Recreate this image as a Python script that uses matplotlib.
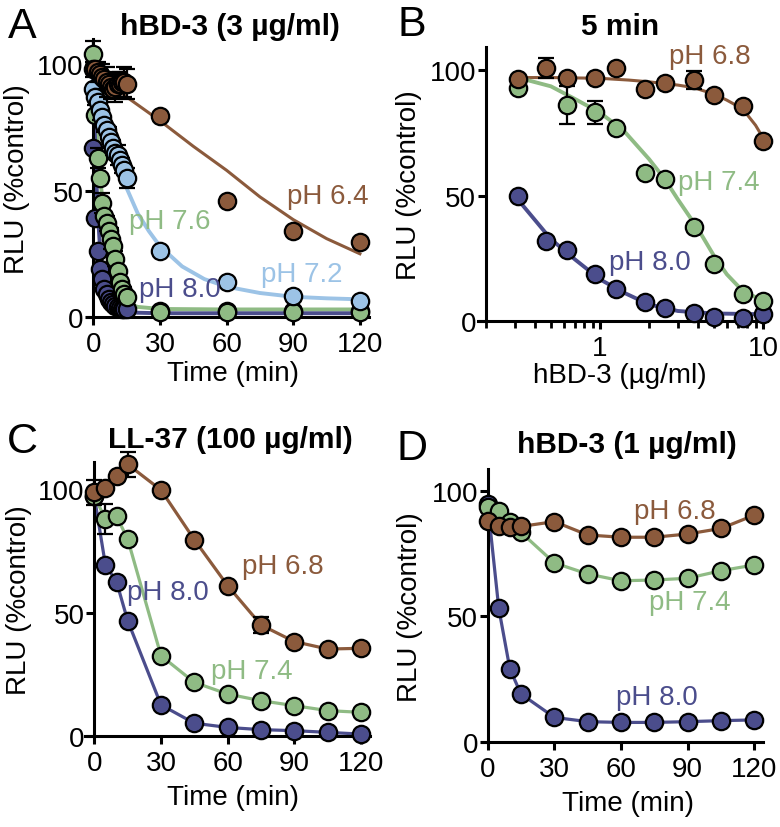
import numpy as np
import matplotlib.pyplot as plt
from matplotlib.ticker import LogLocator, NullFormatter

plt.rcParams['font.family'] = ['Liberation Sans', 'DejaVu Sans']
plt.rcParams['font.size'] = 20

BROWN = '#8b5a3c'
LBLUE = '#9cc3e6'
GREEN = '#8fbb84'
DBLUE = '#4b4d8c'

# ---- panel A: hBD-3 (3 ug/ml), time course ----
a_time = list(range(16)) + [30, 60, 90, 120]
a_ph64 = [98, 98, 97, 96, 95, 94, 93, 92, 91, 90, 91, 92, 92, 93, 93, 92, 79.6, 46, 34, 29.8]
a_ph64_err = [3, 0, 4, 0, 5, 0, 6, 0, 5, 0, 6, 0, 5, 0, 6, 6, 0, 0, 0, 0]
a_ph72 = [90, 87, 85, 82, 79, 76, 74, 71, 69, 67, 65, 64, 62, 60, 58, 55, 26, 13.7, 8.4, 6.4]
a_ph72_err = [0, 3, 0, 4, 0, 3, 0, 4, 0, 3, 0, 4, 0, 3, 0, 4, 0, 0, 0, 0]
a_ph76 = [104, 80, 63, 55, 45, 40, 37, 34, 31, 28, 23, 18, 14, 11, 9, 8, 1.8, 1.8, 1.8, 1.8]
a_ph76_err = [5, 0, 4, 0, 4, 0, 3, 0, 4, 0, 3, 0, 4, 0, 3, 0, 0, 0, 0, 0]
a_ph80 = [67, 39, 26, 19, 15, 11, 9, 7, 6, 5, 4.5, 4, 3.5, 3, 3, 3, 2.5, 2.5, 2.5, 2.5]

# fitted curves
a_fit64_t = [0, 15, 30, 45, 60, 75, 90, 105, 120]
a_fit64 = [98, 87, 77.6, 67.5, 58, 47.5, 38.5, 31, 25]
a_fit72_t = [0, 5, 10, 15, 20, 25, 30, 40, 50, 60, 75, 90, 105, 120]
a_fit72 = [94, 76, 62, 51, 41, 34, 28, 20, 15, 12, 9.5, 8, 7.4, 7]
a_fit76_t = [0, 1, 2, 3, 4, 5, 6, 8, 10, 12, 14, 17, 20, 30, 60, 90, 120]
a_fit76 = [103, 84, 69, 57, 47, 39, 32, 22, 15, 10.5, 7.5, 5, 4, 3.2, 3, 3, 3]
a_fit80_t = [0, 0.5, 1, 1.5, 2, 3, 4, 5, 6, 8, 10, 12, 15, 20, 30, 120]
a_fit80 = [100, 80, 64, 52, 42, 28, 19, 13, 9.5, 5.5, 3.5, 2.5, 2, 1.7, 1.5, 1.5]

# ---- panel B: 5 min, dose response ----
b_conc = [0.3125, 0.469, 0.625, 0.9375, 1.25, 1.875, 2.5, 3.75, 5, 7.5, 10]
b_ph68 = [96.4, 100.7, 96.7, 96.7, 100.7, 92.4, 94.8, 96, 90, 85.5, 71.8]
b_ph68_err = [0, 4, 0, 0, 0, 0, 0, 3.5, 0, 0, 0]
b_conc74 = [0.3125, 0.625, 0.9375, 1.25, 1.875, 2.5, 3.75, 5, 7.5, 10]
b_ph74 = [92.7, 86, 83.1, 77.1, 58.9, 56.5, 37.5, 22.6, 10.9, 8.0]
b_ph74_err = [0, 7.5, 4.5, 0, 0, 0, 0, 0, 0, 0]
b_ph80 = [49.9, 31.9, 28.3, 18.6, 12.6, 7.6, 5.3, 3.3, 1.7, 1.3, 2.7]

b_fit68_c = [0.3125, 0.5, 1, 1.5, 2, 3, 3.75, 5, 6, 7.5, 9, 10]
b_fit68 = [97, 97, 96.7, 96, 95.3, 94, 93, 90.4, 88, 84.5, 78, 73]
b_fit74_c = [0.3125, 0.5, 0.7, 1, 1.4, 2, 2.5, 3, 4, 5, 6, 7.5, 9]
b_fit74 = [97, 93.5, 88.5, 83, 75.8, 64.5, 56.5, 48.5, 36.6, 26, 18.6, 12, 9.5]
b_fit80_c = [0.3125, 0.5, 0.7, 1, 1.4, 2, 3, 5, 10]
b_fit80 = [48.5, 32.6, 24.6, 16.6, 11.3, 6.6, 4, 3, 2.7]

# ---- panel C: LL-37 (100 ug/ml) ----
c_time = [0, 5, 10, 15, 30, 45, 60, 75, 90, 105, 120]
c_ph68 = [98.7, 100.3, 105.4, 110, 99.6, 79.5, 60.9, 45, 38.3, 35.3, 35.6]
c_ph68_err = [5, 0, 0, 5, 0, 0, 0, 3.4, 0, 0, 0]
c_ph74 = [97, 88, 89, 79.8, 32.6, 21.8, 17.1, 14.4, 12.4, 10.4, 9.7]
c_ph74_err = [0, 6, 0, 0, 0, 0, 0, 0, 0, 0, 0]
c_ph80 = [97, 69.3, 62.5, 46.8, 12.7, 5.3, 3.6, 2.7, 2.3, 1.6, 0.9]

# ---- panel D: hBD-3 (1 ug/ml) ----
d_time = [0, 5, 10, 15, 30, 45, 60, 75, 90, 105, 120]
d_ph68 = [88, 86, 85.4, 85.8, 87.7, 82.4, 81.5, 81.5, 82.8, 85, 90.3]
d_ph74 = [93.4, 92, 87.4, 83.4, 71.3, 66.9, 64.2, 64.5, 65.2, 68.2, 70.5]
d_ph80 = [94.7, 53.2, 29.1, 19.2, 9.9, 8.2, 7.9, 7.9, 8.2, 8.6, 8.9]

fig = plt.figure(figsize=(7.8, 8.28), dpi=100)
axA = fig.add_axes([0.111, 0.6159, 0.3618, 0.3361])
axB = fig.add_axes([0.6131, 0.6111, 0.3704, 0.3304])
axC = fig.add_axes([0.1095, 0.1095, 0.3649, 0.3315])
axD = fig.add_axes([0.6181, 0.1023, 0.3605, 0.3297])

MS = 12.5


def dots(ax, x, y, color, z, err=None):
    if err is not None:
        ax.errorbar(x, y, yerr=err, fmt='none', ecolor='black', elinewidth=1.6,
                    capsize=6, capthick=1.6, zorder=z - 0.5, clip_on=False)
    ax.plot(x, y, 'o', ms=MS, mfc=color, mec='black', mew=1.6, zorder=z, clip_on=False)


def style(ax, x0):
    for s in ['top', 'right']:
        ax.spines[s].set_visible(False)
    for s in ['left', 'bottom']:
        ax.spines[s].set_linewidth(2.2)
    ax.spines['left'].set_position(('data', x0))
    ax.tick_params(which='major', direction='out', length=6, width=2.2, labelsize=20)
    ax.tick_params(axis='y', pad=1)
    ax.tick_params(axis='x', pad=4)
    ax.set_yticks([0, 50, 100])
    ax.set_ylabel('RLU (%control)', fontsize=20)


# panel A
axA.plot(a_fit64_t, a_fit64, color=BROWN, lw=2.2, zorder=2)
axA.plot(a_fit72_t, a_fit72, color=LBLUE, lw=2.8, zorder=2)
axA.plot(a_fit76_t, a_fit76, color=GREEN, lw=2.8, zorder=2)
axA.plot(a_fit80_t, a_fit80, color=DBLUE, lw=2.8, zorder=2)
dots(axA, a_time, a_ph80, DBLUE, 3)
dots(axA, a_time, a_ph76, GREEN, 4, a_ph76_err)
dots(axA, a_time, a_ph72, LBLUE, 5, a_ph72_err)
dots(axA, a_time, a_ph64, BROWN, 6, a_ph64_err)
axA.set_xlim(-3, 124)
axA.set_ylim(0, 110)
axA.set_xticks([0, 30, 60, 90, 120])
style(axA, 0)
axA.set_xlabel('Time (min)', fontsize=20)
axA.xaxis.set_label_coords(0.519, -0.155)
axA.yaxis.set_label_coords(-0.2, 0.5)
axA.text(105.6, 47.8, 'pH 6.4', color=BROWN, ha='center', va='center', fontsize=20)
axA.text(34.6, 38, 'pH 7.6', color=GREEN, ha='center', va='center', fontsize=20)
axA.text(93.8, 17, 'pH 7.2', color=LBLUE, ha='center', va='center', fontsize=20)
axA.text(39, 11, 'pH 8.0', color=DBLUE, ha='center', va='center', fontsize=20, zorder=7)

# panel B
axB.set_xscale('log')
axB.plot(b_fit68_c, b_fit68, color=BROWN, lw=2.2, zorder=2)
axB.plot(b_fit74_c, b_fit74, color=GREEN, lw=2.8, zorder=2)
axB.plot(b_fit80_c, b_fit80, color=DBLUE, lw=2.8, zorder=2)
dots(axB, b_conc, b_ph80, DBLUE, 3)
dots(axB, b_conc74, b_ph74, GREEN, 4, b_ph74_err)
dots(axB, b_conc, b_ph68, BROWN, 5, b_ph68_err)
axB.set_xlim(0.179, 10.6)
axB.set_ylim(0, 109)
style(axB, 0.2)
axB.set_xticks([1, 10])
axB.set_xticklabels(['1', '10'])
axB.xaxis.set_minor_locator(LogLocator(base=10, subs=np.arange(2, 10)))
axB.xaxis.set_minor_formatter(NullFormatter())
axB.tick_params(which='minor', direction='out', length=5, width=2)
axB.set_xlabel('hBD-3 (µg/ml)', fontsize=20)
axB.xaxis.set_label_coords(0.49, -0.15)
axB.yaxis.set_label_coords(-0.196, 0.5)
axB.text(4.73, 105.7, 'pH 6.8', color=BROWN, ha='center', va='center', fontsize=20)
axB.text(5.32, 55.3, 'pH 7.4', color=GREEN, ha='center', va='center', fontsize=20)
axB.text(2.03, 23.4, 'pH 8.0', color=DBLUE, ha='center', va='center', fontsize=20)

# panel C
axC.plot(c_time, c_ph68, color=BROWN, lw=2.3, zorder=2)
axC.plot(c_time, c_ph74, color=GREEN, lw=2.3, zorder=2)
axC.plot(c_time, c_ph80, color=DBLUE, lw=2.3, zorder=2)
dots(axC, c_time, c_ph80, DBLUE, 3)
dots(axC, c_time, c_ph74, GREEN, 4, c_ph74_err)
dots(axC, c_time, c_ph68, BROWN, 5, c_ph68_err)
axC.set_xlim(-4, 124)
axC.set_ylim(0, 111)
axC.set_xticks([0, 30, 60, 90, 120])
style(axC, 0)
axC.set_xlabel('Time (min)', fontsize=20)
axC.xaxis.set_label_coords(0.519, -0.175)
axC.yaxis.set_label_coords(-0.189, 0.5)
axC.text(85, 69, 'pH 6.8', color=BROWN, ha='center', va='center', fontsize=20)
axC.text(33.3, 58.2, 'pH 8.0', color=DBLUE, ha='center', va='center', fontsize=20)
axC.text(70.8, 26.5, 'pH 7.4', color=GREEN, ha='center', va='center', fontsize=20)

# panel D
axD.plot(d_time, d_ph68, color=BROWN, lw=2.3, zorder=2)
axD.plot(d_time, d_ph74, color=GREEN, lw=2.3, zorder=2)
axD.plot(d_time, d_ph80, color=DBLUE, lw=2.3, zorder=2)
dots(axD, d_time, d_ph80, DBLUE, 3)
dots(axD, d_time, d_ph74, GREEN, 4)
dots(axD, d_time, d_ph68, BROWN, 5)
axD.set_xlim(-2.5, 124)
axD.set_ylim(0, 108.5)
axD.set_xticks([0, 30, 60, 90, 120])
style(axD, 0)
axD.set_xlabel('Time (min)', fontsize=20)
axD.xaxis.set_label_coords(0.519, -0.175)
axD.yaxis.set_label_coords(-0.21, 0.5)
axD.text(84.3, 92, 'pH 6.8', color=BROWN, ha='center', va='center', fontsize=20)
axD.text(91, 55.6, 'pH 7.4', color=GREEN, ha='center', va='center', fontsize=20)
axD.text(76, 17.9, 'pH 8.0', color=DBLUE, ha='center', va='center', fontsize=20)

# titles and panel letters
titles = ['hBD-3 (3 µg/ml)', '5 min', 'LL-37 (100 µg/ml)', 'hBD-3 (1 µg/ml)']
title_xy = [(230, 27), (620, 26.7), (230, 440), (626.7, 445)]
letters = ['A', 'B', 'C', 'D']
letter_xy = [(22.5, 27), (412, 24.5), (22.5, 442), (412.5, 449)]
for t, (x, y) in zip(titles, title_xy):
    fig.text(x / 780, 1 - y / 828, t, ha='center', va='center', fontsize=21.5, fontweight='bold')
for t, (x, y) in zip(letters, letter_xy):
    fig.text(x / 780, 1 - y / 828, t, ha='center', va='center', fontsize=31)

fig.savefig('out.png', dpi=100)
